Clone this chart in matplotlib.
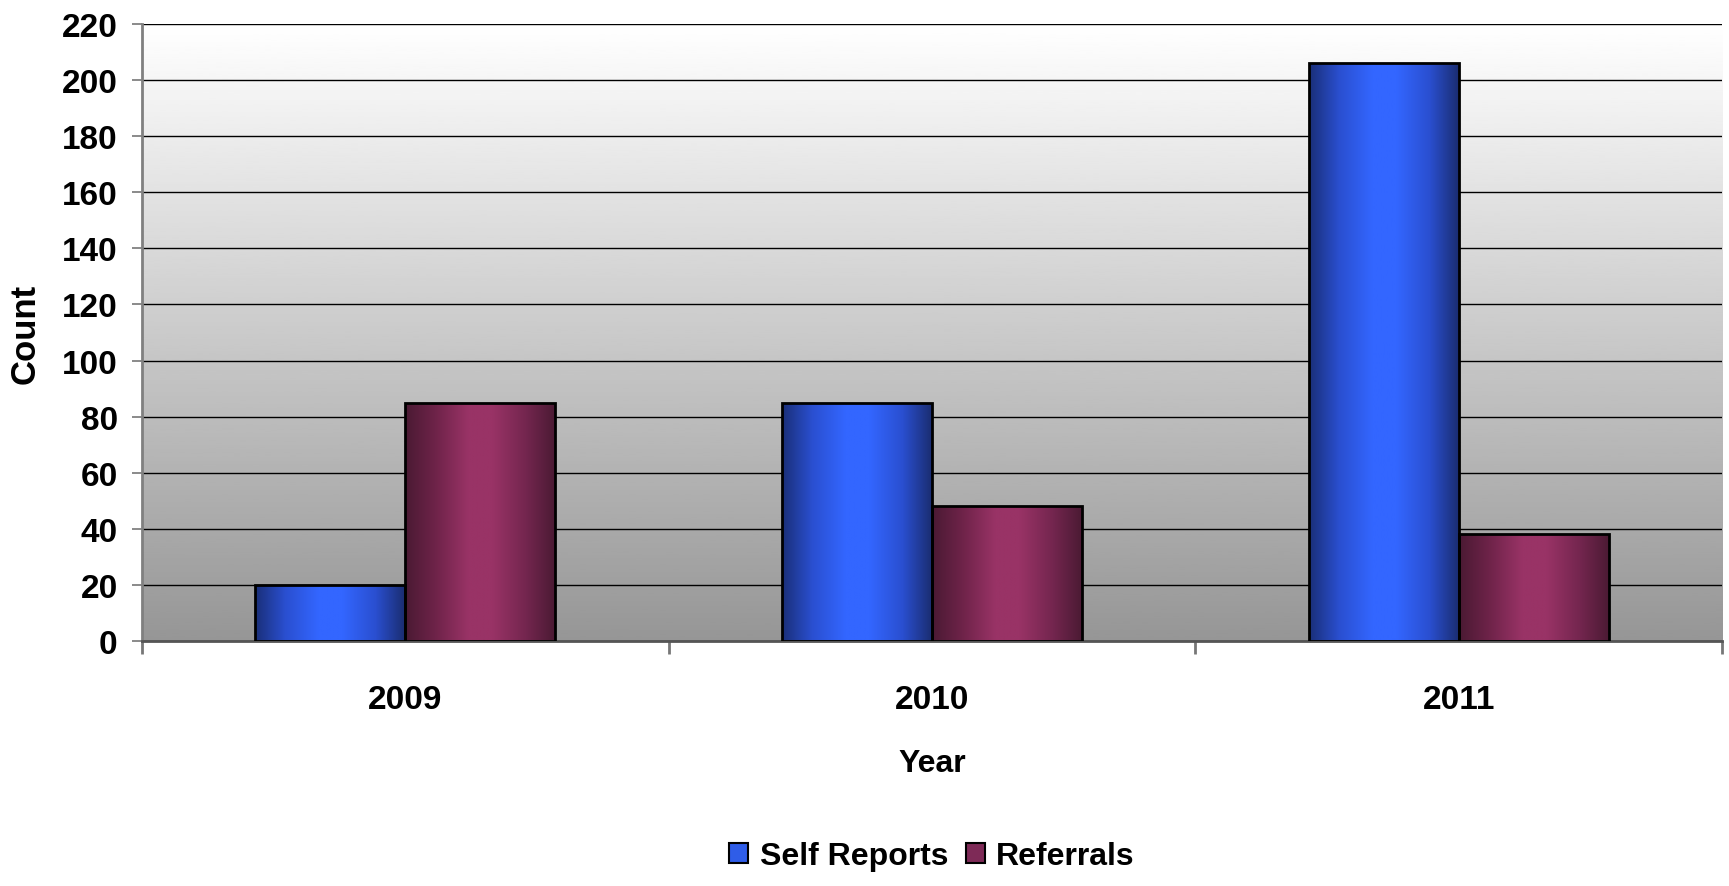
import numpy as np
import matplotlib
matplotlib.use("Agg")
import matplotlib.pyplot as plt
from matplotlib.colors import LinearSegmentedColormap
from matplotlib.patches import Patch

# ---- data ----
years = ["2009", "2010", "2011"]
self_reports = [20, 85, 206]
referrals = [85, 48, 38]
series_names = ["Self Reports", "Referrals"]
y_ticks = list(range(0, 221, 20))

plt.rcParams['font.family'] = ['Liberation Sans', 'DejaVu Sans']
plt.rcParams['font.weight'] = 'bold'

fig = plt.figure(figsize=(17.29, 8.87), dpi=100)
ax = fig.add_axes([142/1729, 1-642/887, (1722-142)/1729, (642-25)/887])

# background vertical gradient
bg = np.linspace(150/255, 1.0, 256).reshape(-1, 1)
ax.imshow(bg, cmap='gray', vmin=0, vmax=1, aspect='auto',
          extent=[0, 1, 0, 1], transform=ax.transAxes, zorder=0, origin='lower')

blue_cmap = LinearSegmentedColormap.from_list(
    'b', [(0, '#1a2f78'), (0.2, '#2a4fd0'), (0.42, '#3366ff'), (0.58, '#3366ff'),
          (0.8, '#2a4fd0'), (1, '#1a2c6e')])
maroon_cmap = LinearSegmentedColormap.from_list(
    'm', [(0, '#4a1a33'), (0.2, '#6e2349'), (0.42, '#993366'), (0.58, '#993366'),
          (0.8, '#74264f'), (1, '#4a1a33')])

x = np.arange(len(years))
w = 0.285
bars1 = ax.bar(x - w/2, self_reports, w, facecolor='none', edgecolor='black',
               linewidth=2, zorder=3)
bars2 = ax.bar(x + w/2, referrals, w, facecolor='none', edgecolor='black',
               linewidth=2, zorder=3)

grad = np.linspace(0, 1, 256).reshape(1, -1)
for bars, cmap in ((bars1, blue_cmap), (bars2, maroon_cmap)):
    for p in bars:
        x0, y0 = p.get_x(), p.get_y()
        im = ax.imshow(grad, cmap=cmap, aspect='auto',
                       extent=[x0, x0 + p.get_width(), y0, y0 + p.get_height()],
                       zorder=2)
        im.set_clip_path(p)

ax.set_xlim(-0.5, 2.5)
ax.set_ylim(0, 220)
ax.set_yticks(y_ticks)
ax.set_yticklabels([str(t) for t in y_ticks], fontsize=24, fontweight='bold')
ax.set_xticks(x)
ax.set_xticklabels(years, fontsize=24, fontweight='bold')
ax.set_xticks([-0.5, 0.5, 1.5, 2.5], minor=True)
ax.tick_params(axis='x', which='major', length=0, pad=31)
ax.tick_params(axis='x', which='minor', length=9, width=2, color='#777777', direction='out')
ax.tick_params(axis='y', which='major', length=7.5, width=1.2, color='#777777', pad=10)

ax.yaxis.grid(True, color='black', linewidth=1.0)
ax.set_axisbelow(True)
for g in ax.get_ygridlines():
    g.set_zorder(1)

for s in ['top', 'right']:
    ax.spines[s].set_visible(False)
ax.spines['left'].set_color('#808080')
ax.spines['left'].set_linewidth(2)
ax.spines['bottom'].set_color('#555555')
ax.spines['bottom'].set_linewidth(2)

ax.set_xlabel('Year', fontsize=23, fontweight='bold', va='center')
ax.xaxis.set_label_coords(0.5, (642-764)/617)
ax.set_ylabel('Count', fontsize=25, fontweight='bold', va='center')
ax.yaxis.set_label_coords((25-142)/1580, 0.5)

handles = [Patch(facecolor='#2f5de8', edgecolor='black', linewidth=1.5),
           Patch(facecolor='#7e2a57', edgecolor='black', linewidth=1.5)]
fig.legend(handles, series_names, loc='center', bbox_to_anchor=(932/1729, 1-857/887),
           ncol=2, frameon=False, prop={'size': 23, 'weight': 'bold'},
           handlelength=0.6, handleheight=0.6, handletextpad=0.35, columnspacing=0.55)

fig.savefig('out.png', dpi=100)
